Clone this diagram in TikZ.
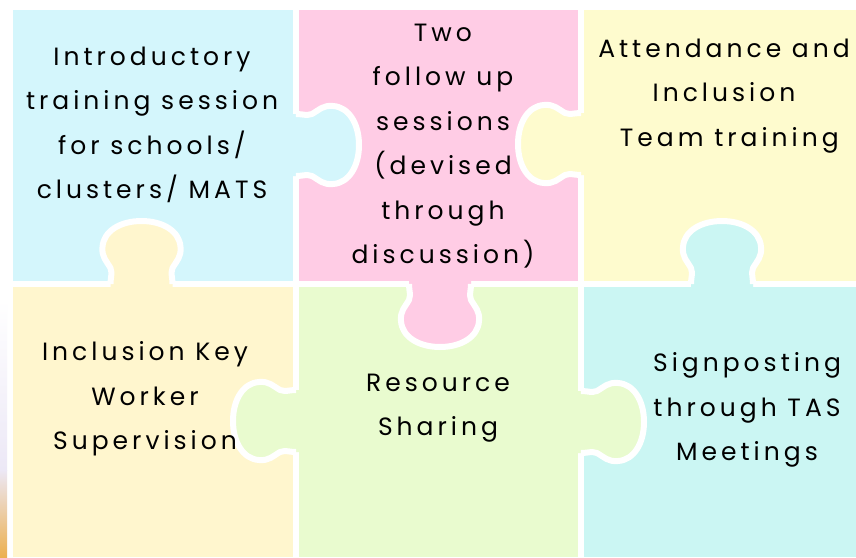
\documentclass[tikz,border=0pt]{standalone}
\usepackage{fontspec}
\setmainfont{Poppins}[LetterSpace=16]
\definecolor{cblue}{RGB}{212,246,252}
\definecolor{cpink}{RGB}{255,204,229}
\definecolor{cyellow}{RGB}{254,251,206}
\definecolor{ccream}{RGB}{255,246,206}
\definecolor{cgreen}{RGB}{233,251,207}
\definecolor{ccyan}{RGB}{203,246,243}
\definecolor{clav}{RGB}{236,232,246}
\definecolor{corange}{RGB}{236,176,80}
\tikzset{
  gapline/.style={draw=white,line width=6pt,line join=round},
  txt/.style={align=center,inner sep=0pt,font=\fontsize{25}{44.5}\selectfont,text=black}
}
\newcommand\jtab[4]{%
  \begin{scope}[shift={(#1,#2)},rotate=#3]
    \fill[#4] (-31,-4) -- (-31,0) .. controls (-31,7) and (-29,10) .. (-31,16)
      .. controls (-35,23) and (-40,27) .. (-39,37)
      .. controls (-38,53) and (-21,63) .. (0,63)
      .. controls (21,63) and (38,53) .. (39,37)
      .. controls (40,27) and (35,23) .. (31,16)
      .. controls (29,10) and (31,7) .. (31,0) -- (31,-4) -- cycle;
    \draw[gapline] (-31,0) .. controls (-31,7) and (-29,10) .. (-31,16)
      .. controls (-35,23) and (-40,27) .. (-39,37)
      .. controls (-38,53) and (-21,63) .. (0,63)
      .. controls (21,63) and (38,53) .. (39,37)
      .. controls (40,27) and (35,23) .. (31,16)
      .. controls (29,10) and (31,7) .. (31,0);
  \end{scope}}
\begin{document}
\begin{tikzpicture}[x=1pt,y=-1pt]
\useasboundingbox (0,0) rectangle (856,557);
\fill[white] (0,0) rectangle (856,557);
% photo strip at left edge
\shade[top color=white,bottom color=clav] (0,300) rectangle (7,470);
\shade[top color=clav,bottom color=corange] (0,470) rectangle (7,557);
% cells
\fill[cblue]   (13,10)   rectangle (296,284);
\fill[cpink]   (296,10)  rectangle (581,284);
\fill[cyellow] (581,10)  rectangle (856,284);
\fill[ccream]  (13,284)  rectangle (296,557);
\fill[cgreen]  (296,284) rectangle (581,557);
\fill[ccyan]   (581,284) rectangle (856,557);
% gaps
\draw[gapline] (296,10) -- (296,557);
\draw[gapline] (581,10) -- (581,557);
\draw[gapline] (13,284) -- (856,284);
% tabs
\jtab{296}{145}{90}{cblue}
\jtab{581}{144}{-90}{cyellow}
\jtab{440}{284}{0}{cpink}
\jtab{141.5}{284}{180}{ccream}
\jtab{722}{284}{180}{ccyan}
\jtab{296}{421}{-90}{cgreen}
\jtab{581}{422}{90}{cgreen}
% texts
\node[txt] (t1) at (152,125) {Introductory\\training session\\for schools/\\clusters/ MATS};
\node[txt] (t2) at (443,146) {Two\\follow up\\sessions\\(devised\\through\\discussion)};
\node[txt] (t3) at (724,96) {Attendance and\\Inclusion\\\ Team training};
\node[txt] (t4) at (145,399) {Inclusion Key\\Worker\\Supervision};
\node[txt] (t5) at (438,408) {Resource\\Sharing};
\node[txt] (t6) at (747,410) {Signposting\\through TAS\\Meetings};
\end{tikzpicture}
\end{document}
